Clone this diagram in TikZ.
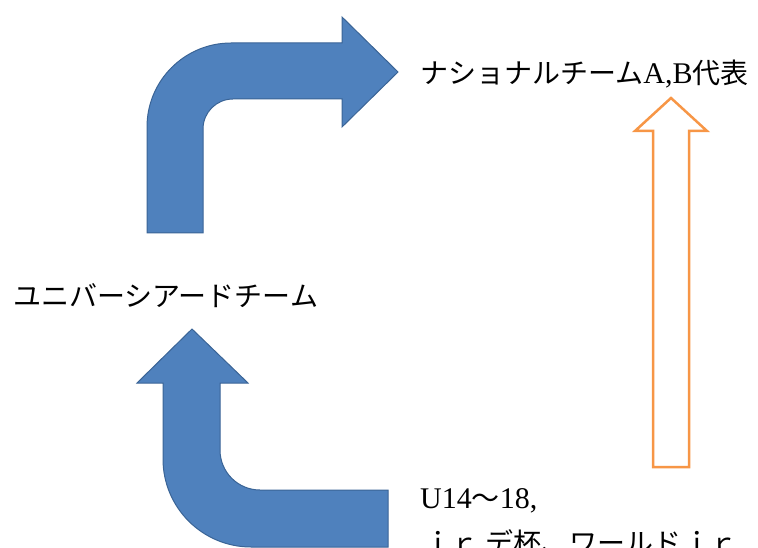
\documentclass[tikz,border=0pt]{standalone}
\usepackage{fontspec}
\setmainfont{Liberation Serif}
\newfontfamily\jp{Noto Sans CJK JP}
\definecolor{bluefill}{HTML}{4F81BD}
\definecolor{blueline}{HTML}{3A6496}
\definecolor{orangeline}{HTML}{F79646}
\tikzset{
  bluearrow/.style={fill=bluefill, draw=blueline, line width=1pt, line join=miter},
  orangearrow/.style={fill=white, draw=orangeline, line width=2.5pt, line join=miter},
  lbl/.style={inner sep=0pt, anchor=base west, font=\fontsize{28}{34}\selectfont},
  latin/.style={}
}
\newcommand{\lat}[1]{{\fontsize{30}{34}\selectfont #1}}
\begin{document}
\begin{tikzpicture}[x=1pt,y=-1pt]
\useasboundingbox (0,0) rectangle (758,548);
% top bent arrow
\draw[bluearrow] (147,233) -- (147,127)
  .. controls (147,80.6) and (184.6,43) .. (231,43)
  -- (342,43) -- (342,17) -- (398,72) -- (342,127) -- (342,99) -- (233,99)
  .. controls (216.4,99) and (203,112.4) .. (203,129)
  -- (203,233) -- cycle;
% bottom bent arrow
\draw[bluearrow] (192,329) -- (248,383) -- (220,383) -- (220,450)
  .. controls (220,472.1) and (237.9,490) .. (260,490)
  -- (388,490) -- (388,547) -- (251,547)
  .. controls (202.4,547) and (163,507.6) .. (163,459)
  -- (163,383) -- (137,383) -- cycle;
% orange hollow arrow
\draw[orangearrow] (671,98) -- (707,131) -- (689,131) -- (689,467) -- (653,467)
  -- (653,131) -- (635,131) -- cycle;
% labels
\node[lbl] (nat) at (420,84) {{\jp ナショナルチーム}\lat{A,B}{\jp 代表}};
\node[lbl] (univ) at (13,306) {\jp ユニバーシアードチーム};
\node[lbl] (u14) at (420,508) {\lat{U14}{\jp ～}\lat{18,}};
\node[lbl] (jr) at (422,553) {\jp ｊｒ.デ杯、ワールドｊｒ．};
\end{tikzpicture}
\end{document}
